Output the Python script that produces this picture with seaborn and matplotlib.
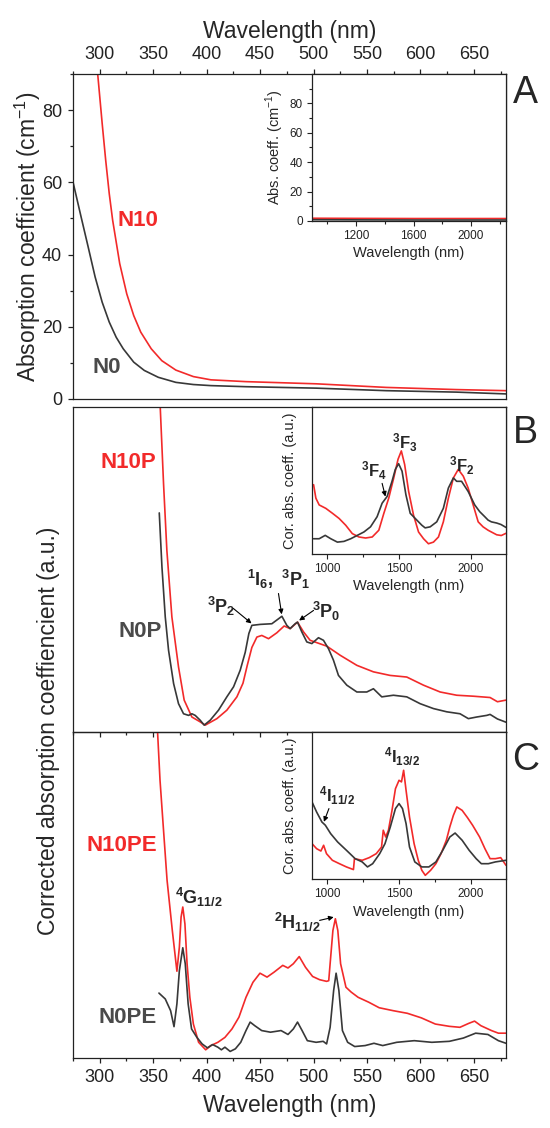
import numpy as np
import pandas as pd
import seaborn as sns
import matplotlib.pyplot as plt

# ---------------- panel A : absorption coefficient (cm-1)
a_n10_wl = [297.5, 302.3, 305.6, 308.9, 312.1, 318.7, 325.3, 331.8, 338.4, 348.2, 358.1,
            371.2, 387.6, 404.0, 436.8, 469.6, 502.4, 535.2, 568.0, 600.8, 633.6, 680.0]
a_n10_val = [92.0, 76.3, 66.1, 56.9, 49.5, 37.5, 29.1, 23.1, 18.5, 13.9, 10.6,
             8.0, 6.2, 5.3, 4.8, 4.5, 4.2, 3.7, 3.2, 2.9, 2.6, 2.3]
a_n0_wl = [275.0, 282.6, 289.2, 295.7, 302.3, 308.9, 315.4, 322.0, 331.8, 341.7, 354.8,
           371.2, 387.6, 404.0, 436.8, 502.4, 568.0, 633.6, 680.0]
a_n0_val = [60.1, 50.4, 42.1, 33.8, 26.8, 21.3, 17.1, 13.9, 10.2, 7.9, 6.0,
            4.6, 4.0, 3.7, 3.4, 3.0, 2.3, 1.9, 1.4]
# inset A (near infrared)
ia_wl = [892, 1200, 1600, 2000, 2245]
ia_n10 = [1.8, 1.7, 1.6, 1.6, 1.6]
ia_n0 = [0.8, 0.7, 0.6, 0.6, 0.6]

# ---------------- panel B : corrected (a.u.)
b_n10_wl = [355.8, 356.6, 359.7, 362.8, 367.5, 373.7, 379.0, 386.2, 394.0, 398.7, 409.6,
            418.9, 428.3, 434.0, 438.0, 442.3, 447.0, 451.6, 457.9, 465.6, 472.5, 478.1,
            485.0, 490.6, 496.8, 512.4, 524.9, 540.5, 556.0, 571.6, 587.2, 602.8, 618.4,
            633.9, 649.5, 665.1, 672.0, 680.0]
b_n10_val = [103.0, 100.0, 76.4, 55.9, 35.4, 20.0, 9.8, 4.6, 3.1, 2.1, 4.1,
             6.7, 10.8, 15.0, 20.5, 26.0, 29.2, 29.7, 28.7, 30.5, 32.6, 31.8,
             33.8, 30.8, 28.2, 26.4, 23.6, 20.5, 18.5, 17.4, 16.9, 14.4, 12.3,
             11.3, 11.0, 10.6, 9.3, 9.8]
b_n0_wl = [355.7, 358.2, 361.3, 364.4, 369.1, 373.7, 378.4, 383.1, 386.2, 389.3, 394.0,
           397.7, 403.3, 411.1, 418.9, 425.2, 431.4, 436.1, 439.5, 442.3, 450.1, 461.0,
           470.4, 475.0, 478.1, 482.8, 485.0, 489.0, 493.7, 498.4, 504.6, 509.3, 514.0,
           518.6, 523.3, 531.1, 540.5, 549.8, 556.0, 563.8, 574.7, 587.2, 599.7, 612.1,
           624.6, 637.0, 644.8, 652.6, 662.0, 665.1, 672.0, 680.0]
b_n0_val = [67.4, 50.8, 35.4, 25.1, 14.9, 8.7, 5.6, 5.1, 5.6, 5.1, 3.6,
            2.1, 3.6, 6.7, 10.8, 13.9, 19.0, 24.5, 30.3, 32.8, 33.1, 33.3,
            35.6, 32.8, 31.8, 33.3, 33.8, 30.8, 27.7, 27.2, 29.0, 28.2, 25.6,
            22.1, 17.4, 14.4, 12.3, 12.3, 13.3, 10.8, 11.3, 10.8, 8.7, 7.2,
            6.2, 5.6, 4.1, 4.6, 5.1, 5.4, 4.0, 3.0]
# inset B
ib_n10_wl = [903, 919, 942, 988, 1035, 1081, 1127, 1173, 1219, 1266, 1312, 1358, 1393, 1427,
             1462, 1492, 1515, 1538, 1566, 1600, 1635, 1670, 1704, 1739, 1774, 1808, 1843,
             1878, 1912, 1947, 1981, 2016, 2051, 2085, 2120, 2143, 2180, 2212, 2245]
ib_n10_val = [47.1, 37.9, 33.3, 31.0, 27.6, 24.1, 19.5, 13.8, 11.5, 10.8, 11.5, 16.1, 27.6, 37.9,
              51.7, 64.4, 70.1, 60.9, 42.5, 26.4, 14.9, 10.3, 6.9, 8.0, 11.5, 21.8, 37.9,
              51.7, 57.5, 52.9, 44.8, 33.3, 21.8, 18.4, 16.1, 14.9, 13.0, 12.5, 14.0]
ib_n0_wl = [903, 942, 984, 1023, 1069, 1115, 1162, 1208, 1254, 1300, 1346, 1381, 1416, 1450,
            1473, 1496, 1520, 1547, 1577, 1612, 1658, 1681, 1716, 1762, 1808, 1843, 1878,
            1901, 1935, 1981, 2027, 2062, 2097, 2120, 2143, 2180, 2210, 2245]
ib_n0_val = [10.3, 10.3, 12.6, 10.3, 8.0, 8.5, 10.3, 12.6, 14.9, 18.4, 25.3, 34.5, 39.1, 49.4,
             57.5, 61.4, 56.3, 40.2, 27.6, 24.1, 19.5, 17.7, 18.4, 21.8, 31.0, 44.8, 51.7,
             49.4, 49.4, 42.5, 33.3, 28.7, 25.3, 23.0, 21.8, 21.0, 20.0, 18.0]

# ---------------- panel C : corrected (a.u.)
c_n10_wl = [353.8, 356.4, 359.7, 363.0, 367.9, 372.2, 374.5, 376.1, 377.7, 379.7, 381.7,
            384.3, 387.6, 392.5, 399.1, 404.0, 410.5, 417.1, 423.7, 430.2, 436.8, 443.3,
            449.9, 456.5, 463.0, 471.2, 476.1, 481.1, 486.6, 492.5, 499.1, 505.7, 512.2,
            514.2, 515.5, 518.1, 520.4, 522.7, 525.3, 530.3, 535.2, 541.7, 551.6, 561.4,
            574.5, 587.7, 600.8, 613.9, 627.0, 636.9, 645.1, 650.6, 656.5, 666.4, 672.9, 680.0]
c_n10_val = [102.0, 85.2, 69.8, 54.5, 39.1, 26.6, 34.0, 43.2, 46.3, 41.1, 28.9,
             18.6, 10.4, 4.8, 2.5, 3.8, 4.8, 6.3, 8.9, 12.5, 18.6, 23.2,
             26.0, 24.8, 26.3, 28.4, 27.6, 28.9, 31.1, 27.8, 25.0, 24.0, 23.5,
             23.7, 28.9, 39.1, 42.7, 39.1, 28.9, 21.7, 20.2, 18.6, 17.1, 15.4,
             14.5, 13.7, 12.3, 10.4, 9.7, 9.4, 10.6, 11.3, 9.9, 8.4, 7.6, 7.6]
c_n0_wl = [355.4, 361.3, 366.3, 369.5, 372.2, 374.5, 377.7, 380.0, 382.7, 385.9, 390.9,
           395.8, 400.7, 405.6, 410.5, 413.8, 417.1, 422.0, 426.9, 431.9, 436.8, 440.7,
           445.0, 451.5, 459.7, 469.6, 476.1, 481.1, 485.0, 489.3, 494.2, 502.4, 509.0,
           512.2, 515.5, 518.8, 521.1, 523.7, 527.0, 531.9, 538.5, 548.3, 556.5, 564.7,
           577.8, 594.2, 610.6, 627.0, 640.1, 651.6, 663.1, 672.9, 680.0]
c_n0_val = [19.9, 18.1, 14.5, 9.6, 16.6, 26.8, 33.8, 28.9, 16.6, 8.9, 6.3,
            4.3, 3.1, 4.1, 3.3, 2.5, 3.3, 2.0, 2.8, 4.8, 8.4, 11.0,
            9.9, 8.4, 7.9, 8.4, 7.2, 8.9, 11.0, 8.4, 5.3, 4.8, 5.1,
            4.3, 9.4, 20.7, 26.0, 20.7, 8.4, 4.8, 3.5, 3.8, 4.5, 3.8,
            4.8, 5.3, 4.8, 5.1, 6.1, 7.6, 7.2, 5.3, 4.5]
# inset C
ic_n10_wl = [892, 924, 954, 973, 993, 1034, 1083, 1132, 1181, 1188, 1242, 1291, 1340, 1377,
             1389, 1406, 1425, 1450, 1474, 1499, 1516, 1531, 1548, 1572, 1604, 1633, 1658,
             1682, 1719, 1756, 1792, 1829, 1853, 1878, 1902, 1939, 1976, 2012, 2061, 2098,
             2134, 2171, 2208, 2245]
ic_n10_val = [24.2, 20.8, 19.2, 23.1, 17.4, 12.9, 10.6, 8.4, 6.6, 14.0, 12.9, 14.7, 17.4, 21.9,
              33.3, 28.7, 33.3, 46.8, 61.5, 67.2, 66.1, 74.0, 60.4, 42.3, 24.2, 12.9, 6.1,
              2.7, 6.1, 10.6, 17.4, 26.5, 35.5, 43.4, 49.1, 46.8, 41.9, 36.7, 28.7, 20.8,
              14.0, 14.0, 14.7, 9.5]
ic_n0_wl = [892, 924, 961, 985, 1022, 1071, 1132, 1193, 1242, 1279, 1315, 1364, 1401, 1438,
            1474, 1499, 1523, 1548, 1572, 1609, 1658, 1707, 1756, 1804, 1853, 1890, 1939,
            1988, 2037, 2073, 2122, 2171, 2245]
ic_n0_val = [52.5, 45.7, 38.9, 36.7, 31.0, 25.3, 19.7, 14.0, 11.8, 8.4, 10.6, 17.4, 24.2, 35.5,
             48.0, 51.4, 48.0, 37.8, 21.9, 11.8, 8.4, 8.4, 11.8, 19.7, 28.7, 31.4, 26.5,
             19.7, 14.0, 10.6, 10.6, 11.8, 12.9]

main_xticks = [300, 350, 400, 450, 500, 550, 600, 650]

RED = '#f22a2a'
BLACK = '#383838'
GREY_TXT = '#4a4a4a'

sns.set_style('ticks')
plt.rcParams['font.family'] = ['Liberation Sans', 'DejaVu Sans']
plt.rcParams['mathtext.fontset'] = 'custom'
plt.rcParams['mathtext.rm'] = 'Liberation Sans'
plt.rcParams['mathtext.bf'] = 'Liberation Sans:bold'
plt.rcParams['axes.linewidth'] = 0.9
plt.rcParams['axes.edgecolor'] = '#222222'


def curve(ax, wl, val, color):
    df = pd.DataFrame({'wl': wl, 'val': val})
    sns.lineplot(data=df, x='wl', y='val', ax=ax, color=color, lw=1.2,
                 estimator=None, sort=False)
    ax.set_xlabel('')
    ax.set_ylabel('')


def main_ticks(ax):
    ax.set_xlim(275, 680)
    ax.set_xticks(main_xticks)
    ax.set_xticks(np.arange(275, 700, 50), minor=True)
    ax.tick_params(which='both', direction='out', width=0.9, colors='#222222',
                   labelsize=13, pad=4)
    ax.tick_params(which='major', length=3.8)
    ax.tick_params(which='minor', length=2.2)


def inset_ticks(ax):
    ax.set_xlim(892, 2245)
    ax.set_ylim(0, 100)
    ax.tick_params(which='both', direction='out', width=0.8, labelsize=8.5,
                   colors='#222222', pad=3)
    ax.tick_params(which='major', length=3.5)
    ax.tick_params(which='minor', length=2.0)
    ax.set_xlabel('Wavelength (nm)', fontsize=10.5, labelpad=3)
    ax.set_facecolor('white')


fig = plt.figure(figsize=(5.5, 11.28), dpi=100)
ax_a = fig.add_axes([0.1327, 0.6463, 0.7873, 0.2881])
ax_b = fig.add_axes([0.1327, 0.3511, 0.7873, 0.2881])
ax_c = fig.add_axes([0.1327, 0.0621, 0.7873, 0.2890])
ax_c.set_facecolor('none')

inset_box = [0.552, 0.548, 0.448, 0.452]

# ---- A
curve(ax_a, a_n10_wl, a_n10_val, RED)
curve(ax_a, a_n0_wl, a_n0_val, BLACK)
main_ticks(ax_a)
ax_a.set_ylim(0, 90)
ax_a.set_yticks([0, 20, 40, 60, 80])
ax_a.set_yticks(np.arange(10, 91, 20), minor=True)
ax_a.xaxis.tick_top()
ax_a.xaxis.set_label_position('top')
ax_a.tick_params(which='both', top=True, bottom=False, right=False, left=True,
                 labeltop=True, labelbottom=False)
ax_a.set_xlabel('Wavelength (nm)', fontsize=16.5, labelpad=6)
ax_a.text(336, 49.5, 'N10', color=RED, fontsize=16, fontweight='bold', ha='center', va='center')
ax_a.text(306.6, 8.8, 'N0', color=GREY_TXT, fontsize=16, fontweight='bold', ha='center', va='center')

ins_a = ax_a.inset_axes(inset_box)
curve(ins_a, ia_wl, ia_n10, RED)
curve(ins_a, ia_wl, ia_n0, BLACK)
inset_ticks(ins_a)
ins_a.set_xticks([1200, 1600, 2000])
ins_a.set_xticks([1000, 1400, 1800, 2200], minor=True)
ins_a.set_yticks([0, 20, 40, 60, 80])
ins_a.set_yticks(np.arange(10, 100, 20), minor=True)
ins_a.tick_params(which='both', top=False, right=False)
ins_a.set_xlabel('Wavelength (nm)', fontsize=10.5, labelpad=3)
ins_a.set_ylabel('Abs. coeff. (cm$^{-1}$)', fontsize=10.5, labelpad=3)

# ---- B
curve(ax_b, b_n10_wl, b_n10_val, RED)
curve(ax_b, b_n0_wl, b_n0_val, BLACK)
main_ticks(ax_b)
ax_b.set_ylim(0, 100)
ax_b.set_yticks([])
ax_b.tick_params(which='both', top=False, bottom=True, left=False, right=False,
                 labelbottom=False)
ax_b.text(327, 83, 'N10P', color=RED, fontsize=16, fontweight='bold', ha='center', va='center')
ax_b.text(338, 31, 'N0P', color=GREY_TXT, fontsize=16, fontweight='bold', ha='center', va='center')
arrow = dict(arrowstyle='-|>', color='black', lw=0.8, mutation_scale=7, shrinkA=0, shrinkB=0)
ax_b.text(414, 38.7, r'$\mathbf{{}^{3}P_{2}}$', fontsize=13, ha='center', va='center')
ax_b.annotate('', xy=(442, 33.4), xytext=(425, 38), arrowprops=arrow)
ax_b.text(467, 47, r'$\mathbf{{}^{1}I_{6},\ {}^{3}P_{1}}$', fontsize=13, ha='center', va='center')
ax_b.annotate('', xy=(470.2, 36.2), xytext=(467.2, 42.6), arrowprops=arrow)
ax_b.text(512, 37, r'$\mathbf{{}^{3}P_{0}}$', fontsize=13, ha='center', va='center')
ax_b.annotate('', xy=(486.5, 34.3), xytext=(500, 37.4), arrowprops=arrow)

ins_b = ax_b.inset_axes(inset_box)
curve(ins_b, ib_n10_wl, ib_n10_val, RED)
curve(ins_b, ib_n0_wl, ib_n0_val, BLACK)
inset_ticks(ins_b)
ins_b.set_xticks([1000, 1500, 2000])
ins_b.set_xticks([1250, 1750], minor=True)
ins_b.set_yticks([])
ins_b.tick_params(which='both', top=False, right=False, left=False)
ins_b.set_ylabel('Cor. abs. coeff. (a.u.)', fontsize=10.5, labelpad=11)
ins_b.text(1536, 75.9, r'$\mathbf{{}^{3}F_{3}}$', fontsize=12, ha='center', va='center')
ins_b.text(1933, 59.8, r'$\mathbf{{}^{3}F_{2}}$', fontsize=12, ha='center', va='center')
ins_b.text(1323, 56.3, r'$\mathbf{{}^{3}F_{4}}$', fontsize=12, ha='center', va='center')
ins_b.annotate('', xy=(1404, 39), xytext=(1381, 48), arrowprops=arrow)

# ---- C
curve(ax_c, c_n10_wl, c_n10_val, RED)
curve(ax_c, c_n0_wl, c_n0_val, BLACK)
main_ticks(ax_c)
ax_c.set_ylim(0, 100)
ax_c.set_yticks([])
ax_c.tick_params(which='both', top=False, bottom=True, left=False, right=False)
ax_c.set_xlabel('Wavelength (nm)', fontsize=16.5, labelpad=6)
ax_c.text(321, 65.2, 'N10PE', color=RED, fontsize=16, fontweight='bold', ha='center', va='center')
ax_c.text(326, 12.5, 'N0PE', color=GREY_TXT, fontsize=16, fontweight='bold', ha='center', va='center')
ax_c.text(392.5, 49.3, r'$\mathbf{{}^{4}G_{11/2}}$', fontsize=13, ha='center', va='center')
ax_c.text(485.3, 41.7, r'$\mathbf{{}^{2}H_{11/2}}$', fontsize=13, ha='center', va='center')
ax_c.annotate('', xy=(518.8, 43.2), xytext=(505.7, 42.2), arrowprops=arrow)

ins_c = ax_c.inset_axes(inset_box)
curve(ins_c, ic_n10_wl, ic_n10_val, RED)
curve(ins_c, ic_n0_wl, ic_n0_val, BLACK)
inset_ticks(ins_c)
ins_c.set_xticks([1000, 1500, 2000])
ins_c.set_xticks([1250, 1750], minor=True)
ins_c.set_yticks([])
ins_c.tick_params(which='both', top=False, right=False, left=False)
ins_c.set_ylabel('Cor. abs. coeff. (a.u.)', fontsize=10.5, labelpad=11)
ins_c.text(1523, 83.5, r'$\mathbf{{}^{4}I_{13/2}}$', fontsize=12, ha='center', va='center')
ins_c.text(1064, 57, r'$\mathbf{{}^{4}I_{11/2}}$', fontsize=12, ha='center', va='center')
ins_c.annotate('', xy=(975, 39), xytext=(1010, 48), arrowprops=arrow)

# shared labels
fig.text(0.0509, 0.790, 'Absorption coefficient (cm$^{-1}$)', rotation=90,
         fontsize=16.5, ha='center', va='center')
fig.text(0.089, 0.352, 'Corrected absorption coeffiencient (a.u.)', rotation=90,
         fontsize=16.5, ha='center', va='center')
for lab, yy in [('A', 0.9176), ('B', 0.616), ('C', 0.326)]:
    fig.text(0.956, yy, lab, fontsize=27, ha='center', va='center')

fig.savefig('out.png', dpi=100)
